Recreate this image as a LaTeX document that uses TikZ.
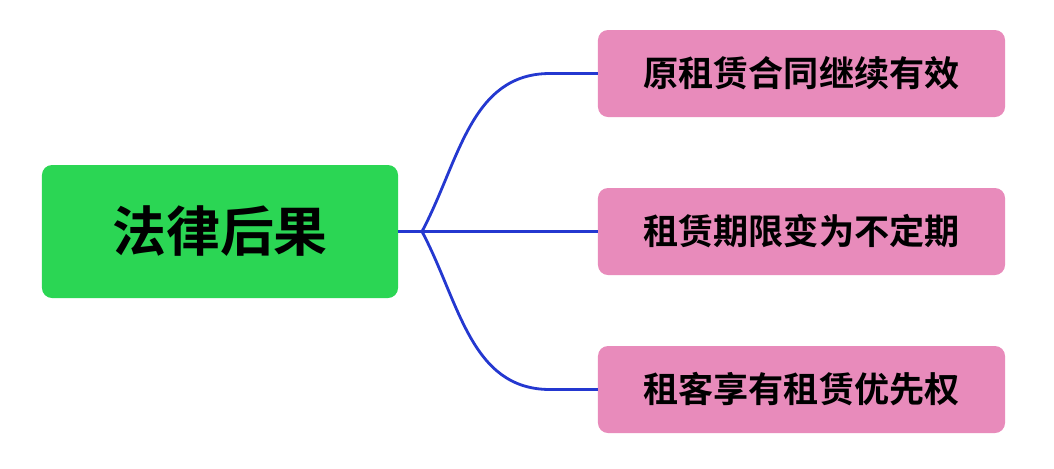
\documentclass[tikz,border=0pt]{standalone}
\usepackage{fontspec}
\newfontfamily\cjk{Noto Sans CJK SC}[BoldFont={Noto Sans CJK SC Bold}]
\definecolor{rootgreen}{HTML}{2BD654}
\definecolor{leafpink}{HTML}{E88BBB}
\definecolor{linkblue}{HTML}{2438D0}
\begin{document}
\begin{tikzpicture}[x=0.03cm,y=-0.03cm]
\tikzstyle{link} = [linkblue, line width = 2.4pt]
\tikzstyle{root} = [rectangle, rounded corners = 0.3cm, fill = rootgreen, minimum width = 10.68cm, minimum height = 3.99cm, font = \cjk\bfseries\fontsize{46}{50}\selectfont, text = black]
\tikzstyle{leaf} = [rectangle, rounded corners = 0.3cm, fill = leafpink, minimum width = 12.21cm, minimum height = 2.61cm, font = \cjk\bfseries\fontsize{30}{34}\selectfont, text = black]
\useasboundingbox (0,0) rectangle (1054,468);
\node[root](law) at (220,231.5){法律后果};
\node[leaf](keep) at (801.5,73.5){原租赁合同继续有效};
\node[leaf](term) at (801.5,231.5){租赁期限变为不定期};
\node[leaf](prior) at (801.5,389.5){租客享有租赁优先权};
\coordinate (fork) at (422,231.5);
\coordinate (k1) at (550,73.5);
\coordinate (k3) at (550,389.5);
\draw[link] (law.east)--(fork);
\draw[link] (fork) to[out=62,in=180] (k1)--(keep.west);
\draw[link] (fork)--(term.west);
\draw[link] (fork) to[out=-62,in=180] (k3)--(prior.west);
\end{tikzpicture}
\end{document}
